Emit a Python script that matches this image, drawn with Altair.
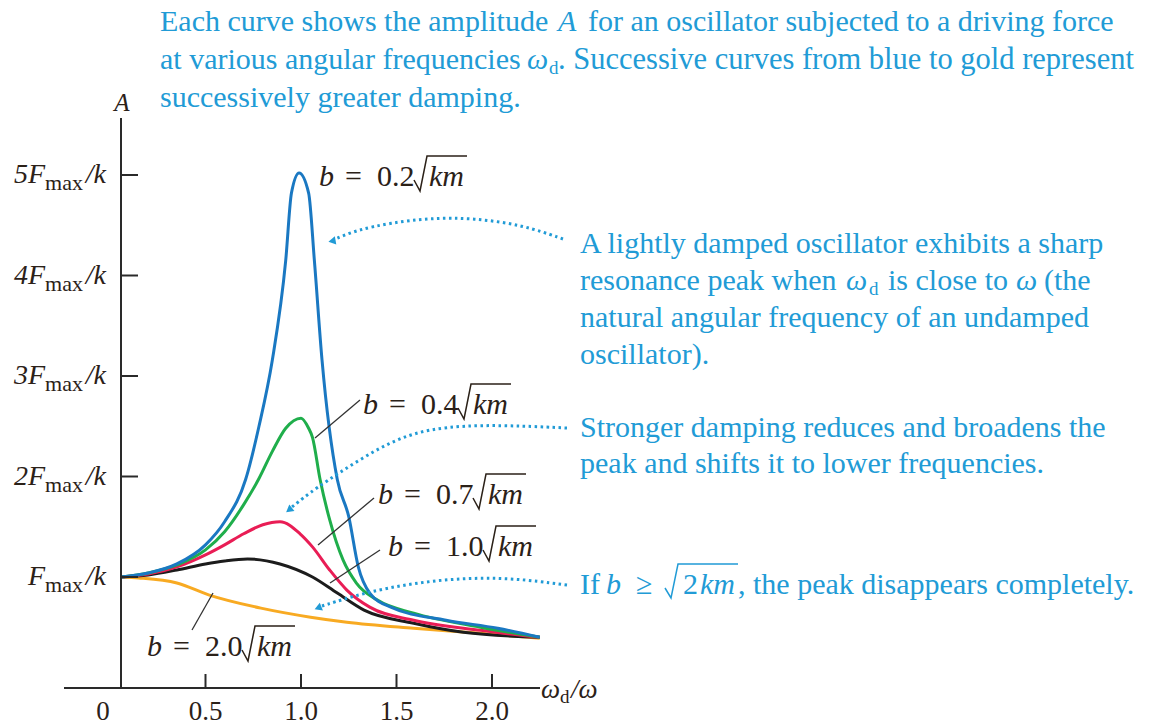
import altair as alt
import pandas as pd

# ---------------- data ----------------
# driving frequency ratio (omega_d / omega) and amplitude A in units of F_max/k
b02_x = [0.06, 0.2, 0.35, 0.5, 0.6, 0.71, 0.78, 0.85, 0.92, 0.95, 0.99, 1.04, 1.07, 1.11, 1.19, 1.25, 1.30, 1.36, 1.47, 1.76, 2.03, 2.25]
b02_y = [1.0, 1.04, 1.13, 1.32, 1.55, 1.97, 2.5, 3.16, 4.15, 4.82, 5.02, 4.82, 4.15, 3.16, 1.97, 1.60, 1.10, 0.84, 0.70, 0.57, 0.49, 0.40]

b04_x = [0.06, 0.2, 0.35, 0.5, 0.6, 0.7, 0.78, 0.85, 0.92, 1.0, 1.04, 1.06, 1.10, 1.15, 1.22, 1.29, 1.40, 1.59, 1.94, 2.25]
b04_y = [1.0, 1.04, 1.12, 1.27, 1.45, 1.72, 1.98, 2.25, 2.48, 2.58, 2.48, 2.39, 1.97, 1.57, 1.17, 0.94, 0.77, 0.64, 0.50, 0.40]

b07_x = [0.06, 0.2, 0.35, 0.5, 0.6, 0.7, 0.8, 0.89, 0.995, 1.06, 1.15, 1.24, 1.36, 1.59, 1.94, 2.25]
b07_y = [1.0, 1.03, 1.10, 1.22, 1.32, 1.43, 1.52, 1.55, 1.43, 1.30, 1.07, 0.87, 0.70, 0.57, 0.47, 0.40]

b10_x = [0.06, 0.2, 0.35, 0.5, 0.6, 0.72, 0.89, 1.06, 1.19, 1.33, 1.59, 1.85, 2.25]
b10_y = [1.0, 1.02, 1.07, 1.13, 1.16, 1.18, 1.13, 1.00, 0.84, 0.67, 0.54, 0.45, 0.40]

b20_x = [0.06, 0.15, 0.35, 0.52, 0.79, 1.05, 1.24, 1.59, 1.94, 2.25]
b20_y = [1.0, 0.99, 0.94, 0.82, 0.69, 0.60, 0.55, 0.49, 0.44, 0.39]

series_names = ["b = 0.2", "b = 0.4", "b = 0.7", "b = 1.0", "b = 2.0"]
series_numbers = ["0.2", "0.4", "0.7", "1.0", "2.0"]
series_colors = ["#1a78c2", "#1fae4b", "#e91d55", "#1c1c1c", "#f8aa22"]

y_tick_values = [1, 2, 3, 4, 5]
y_tick_main = ["F", "2F", "3F", "4F", "5F"]
x_tick_values = [0.5, 1.0, 1.5, 2.0]
x_tick_labels = ["0.5", "1.0", "1.5", "2.0"]

# ---------------- geometry helpers (pixel -> data units) ----------------
W, H = 1149, 725
X0, XS = 110.0, 191.0      # pixel of x=0, pixels per unit
Y0, YS = 677.5, 100.5      # pixel of y=0, pixels per unit


def X(px):
    return (px - X0) / XS


def Y(py):
    return (Y0 - py) / YS


xs = alt.Scale(domain=[X(0), X(W)], nice=False, zero=False)
ys = alt.Scale(domain=[Y(H), Y(0)], nice=False, zero=False)

SERIF = "Liberation Serif"
TXT = "#2b2118"
BLUE_TXT = "#219bd6"
CAP = 30.0

layers = []

# ---------------- curves ----------------
curve_data = {
    "b = 0.2": (b02_x, b02_y),
    "b = 0.4": (b04_x, b04_y),
    "b = 0.7": (b07_x, b07_y),
    "b = 1.0": (b10_x, b10_y),
    "b = 2.0": (b20_x, b20_y),
}
for name, col in reversed(list(zip(series_names, series_colors))):
    cx, cy = curve_data[name]
    df = pd.DataFrame({"w": cx, "A": cy, "series": name})
    layers.append(
        alt.Chart(df).mark_line(interpolate="monotone", strokeWidth=3, color=col)
        .encode(x=alt.X("w:Q", scale=xs, axis=None), y=alt.Y("A:Q", scale=ys, axis=None))
    )

# ---------------- axes ----------------
axis_df = pd.DataFrame({
    "x": [X(121), X(64)], "x2": [X(121), X(540)],
    "y": [Y(688), Y(688)], "y2": [Y(118), Y(688)],
})
layers.append(
    alt.Chart(axis_df).mark_rule(color="#2a2a2a", strokeWidth=2)
    .encode(x=alt.X("x:Q", scale=xs, axis=None), x2="x2:Q",
            y=alt.Y("y:Q", scale=ys, axis=None), y2="y2:Q")
)
ytick_df = pd.DataFrame({"v": y_tick_values, "x": X(121), "x2": X(138)})
layers.append(
    alt.Chart(ytick_df).mark_rule(color="#2a2a2a", strokeWidth=2)
    .encode(x=alt.X("x:Q", scale=xs, axis=None), x2="x2:Q", y=alt.Y("v:Q", scale=ys, axis=None))
)
xtick_df = pd.DataFrame({"v": x_tick_values, "y": Y(688), "y2": Y(674)})
layers.append(
    alt.Chart(xtick_df).mark_rule(color="#2a2a2a", strokeWidth=2)
    .encode(x=alt.X("v:Q", scale=xs, axis=None), y=alt.Y("y:Q", scale=ys, axis=None), y2="y2:Q")
)

# y tick labels: main part, subscript "max", "/k"
ylab_df = pd.DataFrame({"v": y_tick_values, "main": y_tick_main,
                        "sub": ["max"] * 5, "tail": ["/k"] * 5})
for field, xpx, size, dy, style in [("tail", 106, 28, 0, "italic"),
                                      ("sub", 83, 22, 8, "normal"),
                                      ("main", 45, 28, 0, "italic")]:
    layers.append(
        alt.Chart(ylab_df).mark_text(align="right", baseline="middle", font=SERIF,
                                     fontSize=size, fontStyle=style, color=TXT, dy=dy)
        .encode(x=alt.value(xpx), y=alt.Y("v:Q", scale=ys, axis=None), text=f"{field}:N")
    )

# x tick labels
xlab_df = pd.DataFrame({"v": x_tick_values, "t": x_tick_labels})
layers.append(
    alt.Chart(xlab_df).mark_text(align="center", baseline="middle", font=SERIF,
                                 fontSize=27, color=TXT)
    .encode(x=alt.X("v:Q", scale=xs, axis=None), y=alt.value(712), text="t:N")
)

# ---------------- free text pieces ----------------
# (text, x px, y px, size, style, color, align)
texts = [
    ("0", 103, 712, 27, "normal", TXT, "center"),
    ("A", 122, 103, 25, "italic", TXT, "center"),
    ("ω", 541, 690, 27, "italic", TXT, "left"),
    ("d", 560, 697, 19, "normal", TXT, "left"),
    ("/ω", 571, 690, 27, "italic", TXT, "left"),
    # top caption
    ("Each curve shows the amplitude", 160, 22, CAP, "normal", BLUE_TXT, "left"),
    ("A", 558, 22, CAP, "italic", BLUE_TXT, "left"),
    ("for an oscillator subjected to a driving force", 588, 22, CAP, "normal", BLUE_TXT, "left"),
    ("at various angular frequencies", 160, 60, CAP, "normal", BLUE_TXT, "left"),
    ("ω", 527, 60, CAP, "italic", BLUE_TXT, "left"),
    ("d", 549, 68, 19, "normal", BLUE_TXT, "left"),
    (". Successive curves from blue to gold represent", 558, 60, 30.5, "normal", BLUE_TXT, "left"),
    ("successively greater damping.", 160, 98, CAP, "normal", BLUE_TXT, "left"),
    # right notes
    ("A lightly damped oscillator exhibits a sharp", 580, 244, CAP, "normal", BLUE_TXT, "left"),
    ("resonance peak when", 580, 281, CAP, "normal", BLUE_TXT, "left"),
    ("ω", 846, 281, CAP, "italic", BLUE_TXT, "left"),
    ("d", 869, 289, 19, "normal", BLUE_TXT, "left"),
    ("is close to", 888, 281, CAP, "normal", BLUE_TXT, "left"),
    ("ω", 1016, 281, CAP, "italic", BLUE_TXT, "left"),
    ("(the", 1044, 281, CAP, "normal", BLUE_TXT, "left"),
    ("natural angular frequency of an undamped", 580, 318, CAP, "normal", BLUE_TXT, "left"),
    ("oscillator).", 580, 355, CAP, "normal", BLUE_TXT, "left"),
    ("Stronger damping reduces and broadens the", 580, 428, CAP, "normal", BLUE_TXT, "left"),
    ("peak and shifts it to lower frequencies.", 580, 464, CAP, "normal", BLUE_TXT, "left"),
    ("If", 580, 585, CAP, "normal", BLUE_TXT, "left"),
    ("b", 606, 585, CAP, "italic", BLUE_TXT, "left"),
    ("≥", 636, 585, CAP, "normal", BLUE_TXT, "left"),
    ("2", 683, 585, CAP, "normal", BLUE_TXT, "left"),
    ("km", 700, 585, CAP, "italic", BLUE_TXT, "left"),
    (", the peak disappears completely.", 738, 585, CAP, "normal", BLUE_TXT, "left"),
]

# curve labels "b = n √km" : b x-position and centre y in pixels
label_pos = [(319, 177), (363, 405), (378, 495), (388, 547), (147, 647)]
radicals = []
for num, (bx, cy) in zip(series_numbers, label_pos):
    texts.append(("b", bx, cy, 30, "italic", TXT, "left"))
    texts.append(("=", bx + 26, cy, 30, "normal", TXT, "left"))
    texts.append((num, bx + 58, cy, 30, "normal", TXT, "left"))
    texts.append(("km", bx + 110, cy, 30, "italic", TXT, "left"))
    radicals.append((TXT, [(bx + 95, cy + 3), (bx + 101, cy + 14), (bx + 108, cy - 21), (bx + 148, cy - 21)]))
radicals.append((BLUE_TXT, [(665, 588), (671, 598), (678, 564), (738, 564)]))

tdf = pd.DataFrame(texts, columns=["t", "px", "py", "size", "style", "color", "align"])
tdf["x"] = tdf["px"].map(X)
tdf["y"] = tdf["py"].map(Y)
for (size, style, color, align), g in tdf.groupby(["size", "style", "color", "align"]):
    layers.append(
        alt.Chart(g).mark_text(align=align, baseline="middle", font=SERIF, fontSize=float(size),
                               fontStyle=style, color=color)
        .encode(x=alt.X("x:Q", scale=xs, axis=None), y=alt.Y("y:Q", scale=ys, axis=None), text="t:N")
    )

# radical signs with their overlines
rrows = []
for k, (col, pts) in enumerate(radicals):
    for i, (a, b) in enumerate(pts):
        rrows.append({"k": k, "i": i, "x": X(a), "y": Y(b), "c": col})
rad_df = pd.DataFrame(rrows)
layers.append(
    alt.Chart(rad_df).mark_line(strokeWidth=1.5, interpolate="linear")
    .encode(x=alt.X("x:Q", scale=xs, axis=None), y=alt.Y("y:Q", scale=ys, axis=None),
            detail="k:N", order="i:Q", color=alt.Color("c:N", scale=None))
)

# leader lines from labels to curves
ld = [(360, 400, 315, 438), (374, 498, 318, 545), (380, 550, 330, 583), (192, 630, 213, 593)]
ld_df = pd.DataFrame({"x": [X(a[0]) for a in ld], "y": [Y(a[1]) for a in ld],
                      "x2": [X(a[2]) for a in ld], "y2": [Y(a[3]) for a in ld]})
layers.append(
    alt.Chart(ld_df).mark_rule(color="#333333", strokeWidth=1.3)
    .encode(x=alt.X("x:Q", scale=xs, axis=None), x2="x2:Q", y=alt.Y("y:Q", scale=ys, axis=None), y2="y2:Q")
)

# dotted arrows
arrows = {
    "a1": [(563, 239), (523, 225), (473, 218), (430, 218), (390, 223), (357, 230), (335, 239)],
    "a2": [(567, 428), (480, 424), (413, 430), (363, 457), (313, 490), (292, 507)],
    "a3": [(567, 585), (513, 578), (463, 578), (413, 583), (363, 593), (322, 606)],
}
rows = []
for k, pts in arrows.items():
    for i, (a, b) in enumerate(pts):
        rows.append({"k": k, "i": i, "x": X(a), "y": Y(b)})
arr_df = pd.DataFrame(rows)
layers.append(
    alt.Chart(arr_df).mark_line(interpolate="basis", strokeWidth=3, color=BLUE_TXT,
                                strokeDash=[2.5, 3.5])
    .encode(x=alt.X("x:Q", scale=xs, axis=None), y=alt.Y("y:Q", scale=ys, axis=None),
            detail="k:N", order="i:Q")
)
heads = pd.DataFrame({"x": [X(332), X(289), X(318)], "y": [Y(241), Y(510), Y(608)],
                      "ang": [350, 322, 338]})
layers.append(
    alt.Chart(heads).mark_point(shape="triangle-left", filled=True, size=70, color=BLUE_TXT, opacity=1)
    .encode(x=alt.X("x:Q", scale=xs, axis=None), y=alt.Y("y:Q", scale=ys, axis=None),
            angle=alt.Angle("ang:Q", scale=None))
)

chart = alt.layer(*layers).properties(
    width=W, height=H, autosize=alt.AutoSizeParams(type="none"), padding=0,
    background="white"
).configure_view(stroke=None)

chart.save("out.html", embed_options={"renderer": "svg", "actions": False})
